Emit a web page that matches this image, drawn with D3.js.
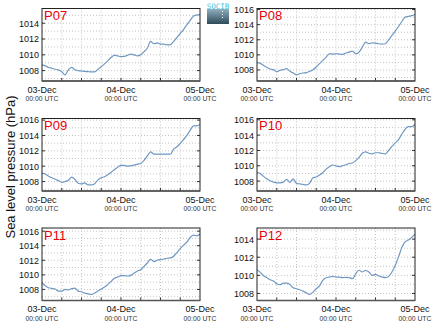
<!DOCTYPE html>
<html>
<head>
<meta charset="utf-8">
<script src="https://cdn.jsdelivr.net/npm/d3@7"></script>
<style>
  body { margin: 0; background: #fff; }
  svg { display: block; font-family: "Liberation Sans", Arial, sans-serif; }
  .grid line { stroke: #c4c4c4; stroke-dasharray: 1,2; }
</style>
</head>
<body>
<div id="chart"></div>
<script>
// figure size
var width = 434;
var height = 327;

// station names, one per panel
var stations = ["P07", "P08", "P09", "P10", "P11", "P12"];

// hours since 03-Dec 00:00 UTC (hourly samples)
var hours = d3.range(0, 49);

// sea level pressure (hPa), hourly
var p07 = [1008.72, 1008.6, 1008.4, 1008.3, 1008.17, 1008.1, 1007.87, 1007.45, 1008.1, 1008.4,
  1008.1, 1008.0, 1007.95, 1007.9, 1007.87, 1007.83, 1007.83, 1008.17, 1008.5, 1008.85,
  1009.27, 1009.65, 1009.95, 1009.86, 1009.77, 1009.8, 1009.95, 1010.1, 1010.0, 1009.86,
  1010.0, 1010.4, 1010.83, 1011.7, 1011.4, 1011.5, 1011.35, 1011.35, 1011.25, 1011.3,
  1011.7, 1012.2, 1012.7, 1013.2, 1013.8, 1014.35, 1014.9, 1015.05, 1015.1];
var p08 = [1008.97, 1008.88, 1008.6, 1008.35, 1008.13, 1008.04, 1007.78, 1007.96, 1008.04, 1008.18,
  1007.82, 1007.6, 1007.34, 1007.5, 1007.6, 1007.65, 1007.82, 1008.04, 1008.4, 1008.84,
  1009.27, 1009.7, 1010.15, 1010.1, 1010.15, 1010.1, 1010.07, 1010.24, 1010.37, 1010.5,
  1010.15, 1010.37, 1011.03, 1011.7, 1011.47, 1011.6, 1011.56, 1011.47, 1011.43, 1011.47,
  1012.0, 1012.57, 1013.14, 1013.76, 1014.42, 1015.0, 1015.1, 1015.2, 1015.34];
var p09 = [1009.1, 1008.98, 1008.7, 1008.5, 1008.3, 1008.13, 1007.9, 1008.0, 1008.18, 1008.58,
  1008.27, 1007.78, 1007.7, 1007.82, 1007.56, 1007.56, 1007.73, 1008.22, 1008.5, 1008.62,
  1008.9, 1009.2, 1009.55, 1009.87, 1010.1, 1010.1, 1010.0, 1010.05, 1010.13, 1010.27,
  1010.36, 1010.76, 1011.33, 1011.87, 1011.56, 1011.56, 1011.56, 1011.56, 1011.56, 1011.56,
  1012.22, 1012.53, 1012.98, 1013.47, 1014.0, 1014.67, 1015.24, 1015.24, 1015.42];
var p10 = [1009.1, 1008.98, 1008.62, 1008.3, 1008.04, 1007.87, 1007.78, 1007.78, 1007.87, 1008.22,
  1007.82, 1008.3, 1007.7, 1007.64, 1007.56, 1007.5, 1007.73, 1008.44, 1008.53, 1008.8,
  1009.1, 1009.56, 1009.87, 1010.1, 1010.0, 1009.9, 1010.0, 1010.13, 1010.3, 1010.36,
  1010.67, 1011.1, 1011.64, 1011.82, 1011.64, 1011.56, 1011.7, 1011.7, 1011.6, 1011.56,
  1012.0, 1012.53, 1012.98, 1013.42, 1014.13, 1014.76, 1015.1, 1015.1, 1015.38];
var p11 = [1008.92, 1008.5, 1008.23, 1008.14, 1008.05, 1007.77, 1007.77, 1008.0, 1007.95, 1008.1,
  1008.18, 1007.77, 1007.68, 1007.5, 1007.4, 1007.31, 1007.5, 1007.77, 1008.05, 1008.32,
  1008.69, 1009.1, 1009.52, 1009.7, 1009.89, 1009.89, 1009.84, 1009.93, 1010.25, 1010.53,
  1010.7, 1011.17, 1011.63, 1012.14, 1011.82, 1012.0, 1012.1, 1012.18, 1012.28, 1012.32,
  1012.55, 1013.06, 1013.6, 1014.07, 1014.48, 1015.13, 1015.45, 1015.36, 1015.6];
var p12 = [1010.63, 1010.33, 1009.96, 1009.74, 1009.52, 1009.37, 1009.07, 1008.96, 1009.15, 1009.15,
  1009.0, 1008.63, 1008.52, 1008.41, 1008.26, 1008.07, 1007.89, 1008.15, 1008.52, 1008.85,
  1009.44, 1009.74, 1009.81, 1009.89, 1009.81, 1009.81, 1009.74, 1009.78, 1009.74, 1009.63,
  1010.19, 1010.56, 1010.37, 1010.56, 1010.37, 1010.0, 1010.11, 1009.93, 1009.81, 1009.74,
  1009.89, 1010.37, 1011.11, 1012.04, 1013.07, 1013.7, 1013.89, 1014.19, 1014.56];

var series = [p07, p08, p09, p10, p11, p12];

// x tick labels (every 24 h)
var dayTicks = [0, 24, 48];
var dayLabels = ["03-Dec", "04-Dec", "05-Dec"];

// panel grid
var colX = [42, 257];
var rowY = [8.5, 118.5, 228];
var pw = 158;
var ph = 72.5;

var svg = d3.select("#chart").append("svg")
  .attr("width", width)
  .attr("height", height);

var x = d3.scaleLinear().domain([0, 48]).range([0, pw]);

series.forEach(function(vals, i) {
  var g = svg.append("g")
    .attr("transform", "translate(" + colX[i % 2] + "," + rowY[Math.floor(i / 2)] + ")");

  // y range padded by 10% of the data span
  var ext = d3.extent(vals);
  var pad = (ext[1] - ext[0]) * 0.1;
  var y = d3.scaleLinear().domain([ext[0] - pad, ext[1] + pad]).range([ph, 0]);

  var minor = d3.range(Math.ceil(y.domain()[0]), Math.floor(y.domain()[1]) + 1);
  var major = minor.filter(function(v) { return v % 2 === 0; });
  var sixHours = d3.range(6, 48, 6);

  // dotted grid
  var grid = g.append("g").attr("class", "grid");
  grid.selectAll(".gx").data(sixHours).enter().append("line")
    .attr("x1", function(d) { return x(d); })
    .attr("x2", function(d) { return x(d); })
    .attr("y1", 0).attr("y2", ph);
  grid.selectAll(".gy").data(minor).enter().append("line")
    .attr("x1", 0).attr("x2", pw)
    .attr("y1", function(d) { return y(d); })
    .attr("y2", function(d) { return y(d); });

  // pressure trace
  var line = d3.line()
    .x(function(d, k) { return x(hours[k]); })
    .y(function(d) { return y(d); })
    .curve(d3.curveMonotoneX);
  g.append("path")
    .datum(vals)
    .attr("fill", "none")
    .attr("stroke", "#6f98c2")
    .attr("stroke-width", 1.2)
    .attr("d", line);

  // inward tick marks
  g.selectAll(".tb").data(sixHours).enter().append("line")
    .attr("x1", function(d) { return x(d); })
    .attr("x2", function(d) { return x(d); })
    .attr("y1", ph).attr("y2", ph - 3)
    .attr("stroke", "#333");
  g.selectAll(".tl").data(major).enter().append("line")
    .attr("x1", 0).attr("x2", 3)
    .attr("y1", function(d) { return y(d); })
    .attr("y2", function(d) { return y(d); })
    .attr("stroke", "#333");
  g.selectAll(".tr").data(major).enter().append("line")
    .attr("x1", pw).attr("x2", pw - 3)
    .attr("y1", function(d) { return y(d); })
    .attr("y2", function(d) { return y(d); })
    .attr("stroke", "#333");

  // frame
  g.append("rect")
    .attr("width", pw).attr("height", ph)
    .attr("fill", "none")
    .attr("stroke", "#222")
    .attr("stroke-width", 1);
  g.append("line")
    .attr("x1", 0).attr("x2", pw)
    .attr("y1", ph).attr("y2", ph)
    .attr("stroke", "#555")
    .attr("stroke-width", 1.6);

  // y tick labels
  var yAxis = d3.axisLeft(y).tickValues(major).tickSize(0).tickPadding(3)
    .tickFormat(d3.format("d"));
  g.append("g").call(yAxis)
    .call(function(a) { a.select(".domain").remove(); })
    .selectAll("text")
    .attr("font-size", 9)
    .attr("font-family", "Liberation Sans, Arial, sans-serif")
    .attr("fill", "#111");

  // x tick labels, two lines
  var xl = g.selectAll(".xl").data(dayTicks).enter().append("g")
    .attr("transform", function(d) { return "translate(" + x(d) + "," + ph + ")"; });
  xl.append("text")
    .attr("y", 11.5)
    .attr("text-anchor", "middle")
    .attr("font-size", 9)
    .attr("fill", "#111")
    .text(function(d, k) { return dayLabels[k]; });
  xl.append("text")
    .attr("y", 20)
    .attr("text-anchor", "middle")
    .attr("font-size", 6.8)
    .attr("fill", "#333")
    .text("00:00 UTC");

  // station label
  g.append("text")
    .attr("x", 2)
    .attr("y", 11.5)
    .attr("font-size", 13)
    .attr("fill", "#e8000b")
    .text(stations[i]);
});

// shared y title
svg.append("text")
  .attr("transform", "translate(15,167) rotate(-90)")
  .attr("text-anchor", "middle")
  .attr("font-size", 13)
  .attr("fill", "#111")
  .text("Sea level pressure (hPa)");

// small logo between the top panels
var defs = svg.append("defs");
var grad = defs.append("linearGradient").attr("id", "logoGrad")
  .attr("x1", 0).attr("y1", 0).attr("x2", 0).attr("y2", 1);
grad.append("stop").attr("offset", "0%").attr("stop-color", "#8fb0bf");
grad.append("stop").attr("offset", "100%").attr("stop-color", "#2f4a58");
var logo = svg.append("g").attr("transform", "translate(207,2)");
logo.append("rect")
  .attr("y", 7).attr("width", 22).attr("height", 15)
  .attr("fill", "url(#logoGrad)");
logo.append("text")
  .attr("x", 11).attr("y", 7)
  .attr("text-anchor", "middle")
  .attr("font-size", 7.5)
  .attr("font-family", "DejaVu Sans Mono, monospace")
  .attr("fill", "#3cc3dc")
  .text("SOCIB");
logo.selectAll(".dot").data([9, 12, 15]).enter().append("rect")
  .attr("x", 15).attr("y", function(d) { return d; })
  .attr("width", 1).attr("height", 1)
  .attr("fill", "#fff");
</script>
</body>
</html>
